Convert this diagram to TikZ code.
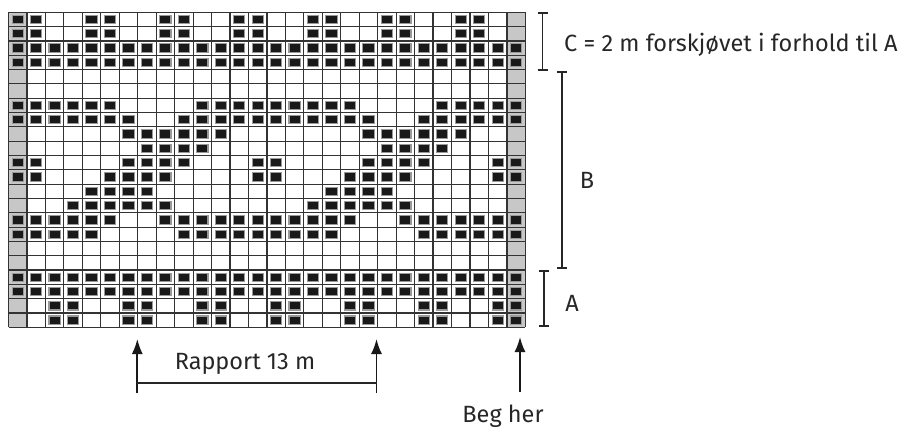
\documentclass[tikz,border=0pt]{standalone}
\usepackage{fontspec}
\setmainfont{Fira Sans}
\usetikzlibrary{arrows.meta}
\def\cw{18.46}
\def\ch{14.32}
\def\xo{8.5}
\def\yo{12.3}
\tikzset{
  gridline/.style={draw=black!80, line width=1.2pt},
  edgecol/.style={fill=black!22},
  knit/.style={fill=black!90, draw=black!40, line width=1.1pt},
  brk/.style={draw=black!85, line width=1.7pt},
  uparrow/.style={draw=black!90, line width=1.7pt, -{Latex[length=15pt,width=11pt]}},
  lbl/.style={font=\fontsize{23.5}{26}\selectfont, text=black!85, inner sep=0pt}
}
\begin{document}
\begin{tikzpicture}[x=1pt,y=-1pt]
\useasboundingbox (0,0) rectangle (908,428);
% grey edge columns
\fill[edgecol] (\xo,\yo) rectangle ({\xo+\cw},{\yo+22*\ch});
\fill[edgecol] ({\xo+27*\cw},\yo) rectangle ({\xo+28*\cw},{\yo+22*\ch});
% black stitches
\foreach \r/\L in {
  0/{0,1,4,5,8,9,12,13,16,17,20,21,24,25},
  1/{0,1,4,5,8,9,12,13,16,17,20,21,24,25},
  2/{0,...,27},
  3/{0,...,27},
  6/{0,1,2,3,4,5,10,11,12,13,14,15,16,17,18,23,24,25,26,27},
  7/{0,1,2,3,4,5,6,9,10,11,12,13,14,15,16,17,18,19,22,23,24,25,26,27},
  8/{6,7,8,9,10,11,19,20,21,22,23,24},
  9/{7,8,9,10,20,21,22,23},
  10/{0,1,6,7,8,9,13,14,19,20,21,22,26,27},
  11/{0,1,5,6,7,8,13,14,18,19,20,21,26,27},
  12/{4,5,6,7,17,18,19,20},
  13/{3,4,5,6,7,8,16,17,18,19,20,21},
  14/{0,1,2,3,4,5,8,9,10,11,12,13,14,15,16,17,18,21,22,23,24,25,26,27},
  15/{0,1,2,3,4,9,10,11,12,13,14,15,16,17,22,23,24,25,26,27},
  18/{0,...,27},
  19/{0,...,27},
  20/{2,3,6,7,10,11,14,15,18,19,22,23,26,27},
  21/{2,3,6,7,10,11,14,15,18,19,22,23,26,27}}{
  \foreach \c in \L {
    \draw[knit] ({\xo+\c*\cw+3.6},{\yo+\r*\ch+3.0}) rectangle ({\xo+(\c+1)*\cw-3.6},{\yo+(\r+1)*\ch-3.0});
  }
}
% grid
\foreach \i in {0,...,28} \draw[gridline] ({\xo+\i*\cw},\yo) -- ({\xo+\i*\cw},{\yo+22*\ch});
\foreach \j in {0,...,22} \draw[gridline] (\xo,{\yo+\j*\ch}) -- ({\xo+28*\cw},{\yo+\j*\ch});
% brackets
\coordinate (ct) at (542.5,13.3); \coordinate (cb) at (542.5,70);
\coordinate (bt) at (562.3,72.3); \coordinate (bb) at (562.3,268.3);
\coordinate (at) at (544.3,271); \coordinate (ab) at (544.3,325.7);
\draw[brk] (ct) -- (cb);
\draw[brk] ([xshift=-5pt]ct) -- ([xshift=5pt]ct);
\draw[brk] ([xshift=-5pt]cb) -- ([xshift=5pt]cb);
\draw[brk] (bt) -- (bb);
\draw[brk] ([xshift=-5pt]bt) -- ([xshift=5pt]bt);
\draw[brk] ([xshift=-5pt]bb) -- ([xshift=5pt]bb);
\draw[brk] (at) -- (ab);
\draw[brk] ([xshift=-5pt]at) -- ([xshift=5pt]at);
\draw[brk] ([xshift=-5pt]ab) -- ([xshift=5pt]ab);
\node[lbl, anchor=base west] (ctext) at (564,52) {C = 2 m forskjøvet i forhold til A};
\node[lbl, anchor=base] (btext) at (587,188) {B};
\node[lbl, anchor=base] (atext) at (572,311) {A};
% rapport arrows
\coordinate (r1b) at (137.3,393); \coordinate (r1t) at (137.3,339);
\coordinate (r2b) at (376.5,393); \coordinate (r2t) at (376.5,339);
\coordinate (h1) at (137.3,383); \coordinate (h2) at (376.5,383);
\draw[uparrow] (r1b) -- (r1t);
\draw[uparrow] (r2b) -- (r2t);
\draw[brk] (h1) -- (h2);
\node[lbl, anchor=base] (rtext) at (245,369) {Rapport 13 m};
% start arrow
\coordinate (sb) at (520,392); \coordinate (st) at (520,337);
\draw[uparrow] (sb) -- (st);
\node[lbl, anchor=base] (stext) at (503,422) {Beg her};
\end{tikzpicture}
\end{document}
